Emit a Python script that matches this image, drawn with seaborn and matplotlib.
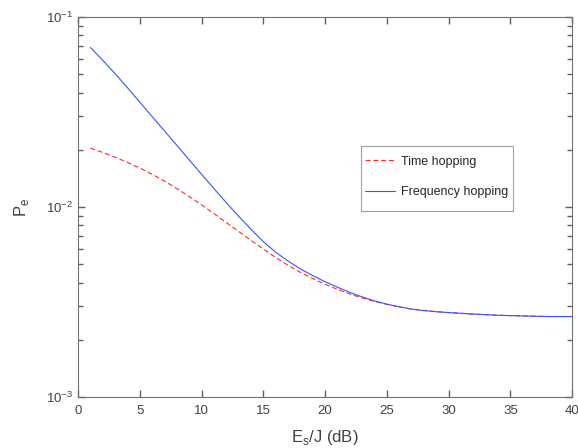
import numpy as np
import pandas as pd
import matplotlib
matplotlib.use('Agg')
import matplotlib.pyplot as plt
import matplotlib.patches as mpatches
import seaborn as sns
from matplotlib.ticker import FixedLocator, NullFormatter, MultipleLocator, LogLocator

# 데이터
es_j_db = [1, 2, 3, 4, 5, 6, 7, 8, 9, 10, 11, 12, 13, 14, 15, 16, 17, 18, 19, 20,
           21, 22, 23, 24, 25, 26, 27, 28, 29, 30, 32, 34, 36, 38, 40]
pe_freq_hop = [0.06918, 0.05916, 0.05035, 0.04246, 0.03565, 0.02992, 0.02512, 0.02109, 0.01770, 0.01486,
               0.01250, 0.01054, 0.00893, 0.00764, 0.00656, 0.00578, 0.00519, 0.00472, 0.00435, 0.00404,
               0.00378, 0.00355, 0.00336, 0.00320, 0.00308, 0.00298, 0.00290, 0.00285, 0.00281, 0.00278,
               0.00273, 0.00269, 0.00267, 0.00265, 0.00265]
pe_time_hop = [0.02042, 0.01936, 0.01828, 0.01718, 0.01603, 0.01486, 0.01368, 0.01250, 0.01135, 0.01026,
               0.00923, 0.00828, 0.00743, 0.00667, 0.00600, 0.00542, 0.00493, 0.00453, 0.00420, 0.00392,
               0.00368, 0.00348, 0.00332, 0.00318, 0.00307, 0.00298, 0.00290, 0.00285, 0.00281, 0.00278,
               0.00273, 0.00269, 0.00267, 0.00265, 0.00265]

df = pd.DataFrame({'x': es_j_db, 'time': pe_time_hop, 'freq': pe_freq_hop})

sns.set_theme(style='ticks')
plt.rcParams['font.family'] = ['Liberation Sans', 'DejaVu Sans']
plt.rcParams['mathtext.fontset'] = 'custom'
plt.rcParams['mathtext.rm'] = 'Liberation Sans'

txt_color = '#404040'
axis_color = '#606060'

fig = plt.figure(figsize=(5.78, 4.48), dpi=100)
ax = fig.add_axes([0.135, 0.114, 0.855, 0.848])

sns.lineplot(data=df, x='x', y='time', ax=ax, color='#ff2a2a', linewidth=0.8,
             linestyle=(0, (4.5, 2.5)), label='Time hopping')
sns.lineplot(data=df, x='x', y='freq', ax=ax, color='#3355ff', linewidth=0.8,
             label='Frequency hopping')

ax.set_yscale('log')
ax.set_xlim(0, 40)
ax.set_ylim(1e-3, 1e-1)
ax.xaxis.set_major_locator(MultipleLocator(5))
ax.yaxis.set_major_locator(LogLocator(base=10, numticks=5))
minor_y = [k * 10.0 ** e for e in (-3, -2) for k in range(2, 10)]
ax.yaxis.set_minor_locator(FixedLocator(minor_y))
ax.yaxis.set_minor_formatter(NullFormatter())

ax.tick_params(which='both', direction='in', top=True, right=True, left=True, bottom=True,
               color=axis_color, labelcolor=txt_color, labelsize=9.5)
ax.tick_params(axis='x', which='major', pad=6)
ax.tick_params(which='major', length=5, width=1.0)
ax.tick_params(which='minor', length=3.5, width=1.0)
for sp in ax.spines.values():
    sp.set_visible(True)
    sp.set_color('#707070')
    sp.set_linewidth(0.8)

ax.set_xlabel('E$_\\mathregular{s}$/J (dB)', fontsize=12, color=txt_color, labelpad=8)
ax.set_ylabel('P$_\\mathregular{e}$', fontsize=12, color=txt_color, labelpad=11)

# 범례 테두리 (MATLAB 스타일)
box = mpatches.Rectangle((0.572, 0.489), 0.309, 0.172, transform=ax.transAxes,
                         facecolor='white', edgecolor='#a0a0a0', linewidth=0.8, zorder=4)
ax.add_patch(box)
leg = ax.legend(loc='center left', bbox_to_anchor=(0.581, 0.579), fontsize=9,
                handlelength=2.4, handletextpad=0.5, labelspacing=1.5,
                borderpad=0, frameon=False, borderaxespad=0)
leg.set_zorder(5)
for t in leg.get_texts():
    t.set_color('#262626')

plt.savefig('out.png', dpi=100)
